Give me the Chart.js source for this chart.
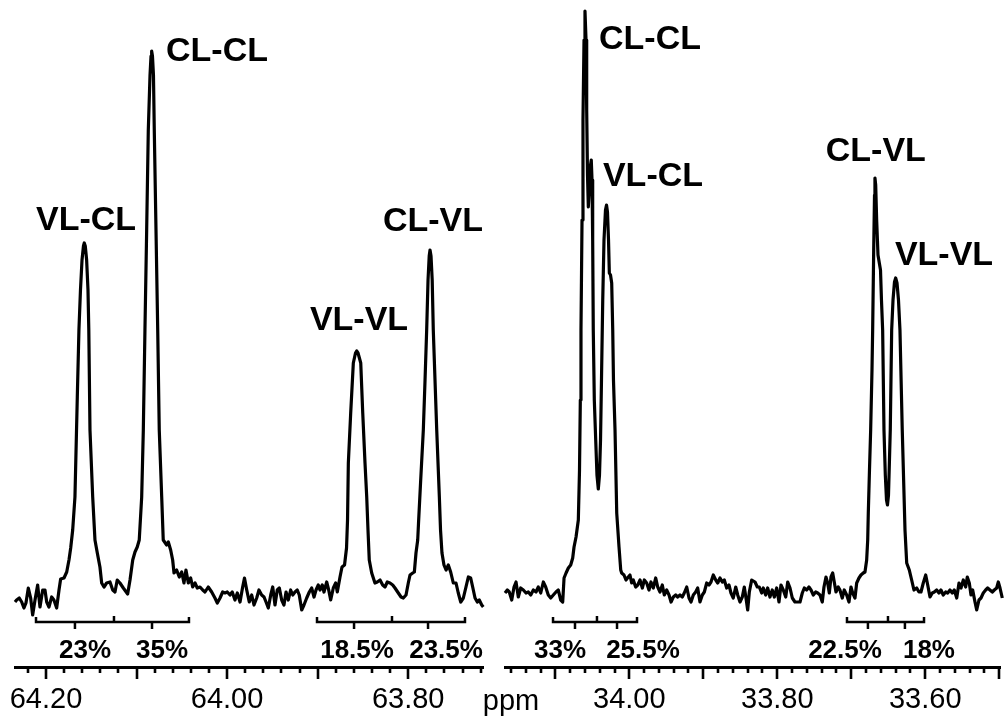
<!DOCTYPE html>
<html>
<head>
<meta charset="utf-8">
<script src="https://cdn.jsdelivr.net/npm/chart.js@4/dist/chart.umd.min.js"></script>
<style>
  html, body { margin: 0; padding: 0; background: #fff; }
  #wrap { position: relative; width: 1005px; height: 719px; overflow: hidden; background: #fff; }
  canvas { position: absolute; top: 0; }
  #leftCanvas { left: 0; }
  #rightCanvas { left: 470px; }
</style>
</head>
<body>
<div id="wrap">
  <canvas id="leftCanvas" width="495" height="719"></canvas>
  <canvas id="rightCanvas" width="535" height="719"></canvas>
</div>
<script>
// ---------- Left panel: 63.72 - 64.23 ppm ----------
const leftPpm = [
  64.2342, 64.2324, 64.2295, 64.2268, 64.2243, 64.2221, 64.2195, 64.2169, 64.2147, 64.2121,
  64.2092, 64.2066, 64.2036, 64.2011, 64.1992, 64.1967, 64.1937, 64.1912, 64.1882, 64.1856,
  64.1838, 64.1801, 64.1771, 64.1746, 64.1727, 64.1705, 64.1680, 64.1654, 64.1636, 64.1619,
  64.1602, 64.1586, 64.1577, 64.1566, 64.1551, 64.1536, 64.1527, 64.1514, 64.1484, 64.1459,
  64.1433, 64.1404, 64.1385, 64.1359, 64.1330, 64.1293, 64.1263, 64.1238, 64.1213, 64.1183,
  64.1146, 64.1098, 64.1072, 64.1042, 64.1017, 64.0992, 64.0970, 64.0943, 64.0925, 64.0907,
  64.0888, 64.0870, 64.0851, 64.0840, 64.0833, 64.0824, 64.0813, 64.0804, 64.0785, 64.0766,
  64.0749, 64.0722, 64.0705, 64.0667, 64.0649, 64.0623, 64.0601, 64.0586, 64.0557, 64.0528,
  64.0501, 64.0476, 64.0454, 64.0428, 64.0402, 64.0380, 64.0354, 64.0329, 64.0299, 64.0269,
  64.0244, 64.0208, 64.0170, 64.0134, 64.0108, 64.0078, 64.0049, 64.0023, 63.9998, 63.9968,
  63.9943, 63.9913, 63.9887, 63.9857, 63.9828, 63.9808, 63.9783, 63.9755, 63.9728, 63.9703,
  63.9673, 63.9648, 63.9618, 63.9592, 63.9570, 63.9545, 63.9518, 63.9496, 63.9471, 63.9446,
  63.9423, 63.9397, 63.9372, 63.9349, 63.9324, 63.9298, 63.9275, 63.9250, 63.9225, 63.9203,
  63.9176, 63.9151, 63.9121, 63.9092, 63.9066, 63.9040, 63.9018, 63.8993, 63.8974, 63.8949,
  63.8930, 63.8900, 63.8878, 63.8856, 63.8827, 63.8801, 63.8783, 63.8753, 63.8731, 63.8703,
  63.8681, 63.8670, 63.8661, 63.8635, 63.8606, 63.8582, 63.8569, 63.8554, 63.8524, 63.8502,
  63.8477, 63.8458, 63.8444, 63.8430, 63.8403, 63.8367, 63.8341, 63.8311, 63.8282, 63.8256,
  63.8231, 63.8201, 63.8171, 63.8146, 63.8109, 63.8079, 63.8054, 63.8024, 63.7999, 63.7980,
  63.7950, 63.7932, 63.7914, 63.7895, 63.7886, 63.7862, 63.7833, 63.7814, 63.7796, 63.7781,
  63.7768, 63.7759, 63.7748, 63.7735, 63.7723, 63.7704, 63.7685, 63.7656, 63.7643, 63.7627,
  63.7605, 63.7582, 63.7557, 63.7531, 63.7502, 63.7472, 63.7447, 63.7420, 63.7391, 63.7362,
  63.7336, 63.7310, 63.7288, 63.7262, 63.7237, 63.7215, 63.7188, 63.7171
];
const leftIntensity = [
  -2, 0, 2, -2, -8, -3, 12, 2, -15, 0,
  15, -7, 10, 10, -2, -7, 3, 0, -8, 10,
  21, 22, 28, 40, 52, 70, 103, 203, 270, 310,
  340, 354, 357, 354, 340, 310, 270, 170, 103, 60,
  47, 33, 17, 13, 17, 18, 10, 8, 20, 17,
  12, 6, 20, 40, 48, 53, 60, 103, 170, 270,
  370, 470, 525, 544, 549, 544, 525, 470, 370, 270,
  170, 103, 60, 55, 58, 50, 40, 27, 30, 23,
  28, 17, 30, 17, 22, 13, 17, 12, 13, 10,
  8, 13, 8, 2, -3, 2, 8, 7, 8, 5,
  8, 0, 7, -2, 13, 22, 10, -2, 5, -5,
  2, 10, 5, 3, -2, -8, 5, 13, -5, 10,
  12, 0, -5, 8, 0, 10, 5, 8, 10, 5,
  -10, -5, 2, 8, 12, 3, 10, 15, 10, 15,
  8, 18, 10, 0, 12, 17, 8, 23, 33, 35,
  52, 80, 137, 187, 237, 247, 249, 247, 237, 187,
  137, 103, 70, 40, 27, 17, 18, 20, 15, 13,
  18, 17, 15, 12, 7, 3, 2, 5, 17, 25,
  27, 28, 47, 60, 77, 120, 170, 220, 270, 320,
  344, 350, 344, 320, 270, 220, 170, 103, 70, 47,
  35, 30, 35, 28, 17, 17, 7, -2, 2, 13,
  23, 22, 13, 2, -2, 0, -5, -7
];

// ---------- Right panel: 33.50 - 34.17 ppm ----------
const rightPpm = [
  34.1680, 34.1649, 34.1622, 34.1589, 34.1558, 34.1531, 34.1500, 34.1468, 34.1432, 34.1396,
  34.1365, 34.1332, 34.1297, 34.1261, 34.1230, 34.1197, 34.1162, 34.1130, 34.1095, 34.1062,
  34.1027, 34.0991, 34.0960, 34.0927, 34.0900, 34.0882, 34.0855, 34.0824, 34.0792, 34.0765,
  34.0747, 34.0720, 34.0689, 34.0673, 34.0662, 34.0653, 34.0639, 34.0626, 34.0612, 34.0599,
  34.0585, 34.0576, 34.0565, 34.0554, 34.0541, 34.0524, 34.0514, 34.0504, 34.0495, 34.0487,
  34.0473, 34.0454, 34.0437, 34.0419, 34.0403, 34.0389, 34.0376, 34.0359, 34.0342, 34.0322,
  34.0308, 34.0295, 34.0281, 34.0270, 34.0254, 34.0238, 34.0224, 34.0214, 34.0193, 34.0170,
  34.0139, 34.0116, 34.0103, 34.0072, 34.0045, 34.0014, 33.9991, 33.9968, 33.9946, 33.9914,
  33.9886, 33.9855, 33.9824, 33.9797, 33.9765, 33.9734, 33.9707, 33.9676, 33.9643, 33.9616,
  33.9585, 33.9554, 33.9527, 33.9495, 33.9463, 33.9436, 33.9405, 33.9373, 33.9346, 33.9315,
  33.9284, 33.9257, 33.9224, 33.9193, 33.9166, 33.9135, 33.9103, 33.9076, 33.9045, 33.9013,
  33.8986, 33.8954, 33.8923, 33.8896, 33.8865, 33.8832, 33.8805, 33.8774, 33.8743, 33.8716,
  33.8684, 33.8653, 33.8626, 33.8595, 33.8562, 33.8535, 33.8504, 33.8473, 33.8446, 33.8423,
  33.8400, 33.8378, 33.8346, 33.8301, 33.8270, 33.8243, 33.8211, 33.8189, 33.8157, 33.8130,
  33.8099, 33.8068, 33.8040, 33.8008, 33.7977, 33.7950, 33.7919, 33.7886, 33.7859, 33.7828,
  33.7797, 33.7761, 33.7730, 33.7693, 33.7662, 33.7635, 33.7603, 33.7572, 33.7544, 33.7513,
  33.7481, 33.7454, 33.7423, 33.7392, 33.7369, 33.7342, 33.7319, 33.7297, 33.7274, 33.7251,
  33.7230, 33.7207, 33.7176, 33.7153, 33.7122, 33.7095, 33.7062, 33.7031, 33.7004, 33.6981,
  33.6950, 33.6927, 33.6896, 33.6869, 33.6838, 33.6815, 33.6792, 33.6778, 33.6770, 33.6754,
  33.6738, 33.6720, 33.6711, 33.6697, 33.6686, 33.6680, 33.6670, 33.6657, 33.6639, 33.6621,
  33.6605, 33.6592, 33.6576, 33.6558, 33.6540, 33.6524, 33.6511, 33.6497, 33.6484, 33.6473,
  33.6454, 33.6436, 33.6416, 33.6400, 33.6382, 33.6362, 33.6342, 33.6311, 33.6274, 33.6251,
  33.6216, 33.6184, 33.6153, 33.6116, 33.6085, 33.6058, 33.6027, 33.5994, 33.5967, 33.5936,
  33.5905, 33.5878, 33.5846, 33.5815, 33.5788, 33.5757, 33.5724, 33.5697, 33.5666, 33.5635,
  33.5608, 33.5575, 33.5544, 33.5517, 33.5486, 33.5454, 33.5432, 33.5405, 33.5382, 33.5359,
  33.5328, 33.5305, 33.5274, 33.5247, 33.5216, 33.5184, 33.5157, 33.5126, 33.5094, 33.5067,
  33.5035, 33.5013, 33.4990, 33.4959
];
const rightIntensity = [
  7, 10, 8, 0, 13, 18, 3, 12, 10, 7,
  8, 5, 10, 8, 13, 7, 18, 13, 5, 2,
  5, 8, 10, 0, -2, 22, 27, 32, 35, 42,
  53, 63, 80, 130, 200, 270, 380, 480, 560, 589,
  560, 490, 425, 393, 410, 435, 440, 420, 360, 270,
  200, 160, 125, 111, 125, 160, 220, 300, 360, 390,
  395, 388, 360, 327, 325, 317, 270, 220, 170, 87,
  53, 30, 27, 25, 20, 23, 25, 17, 20, 13,
  15, 20, 12, 20, 17, 10, 18, 12, 22, 13,
  8, 15, 5, 10, 5, -2, 3, 5, 3, 5,
  3, 7, 13, 2, -2, 5, 8, 12, -2, 5,
  8, 17, 15, 18, 25, 20, 17, 22, 18, 20,
  12, 15, 7, 2, 13, 5, -2, 3, 13, 2,
  -10, 8, 20, 18, 13, 13, 7, 12, 5, 12,
  3, 10, 3, 12, -2, 15, 10, 3, 18, 12,
  2, -2, -2, -2, 7, 12, 10, 13, 10, 5,
  8, 7, 5, -2, 13, 23, 17, 7, 23, 27,
  18, 8, 13, 10, 2, 10, 5, -2, 13, 7,
  2, 17, 22, 25, 27, 28, 40, 60, 87, 130,
  170, 230, 270, 350, 405, 422, 415, 380, 345, 337,
  330, 300, 270, 170, 125, 100, 95, 105, 140, 170,
  270, 300, 318, 322, 317, 300, 270, 170, 70, 37,
  30, 20, 10, 12, 8, 8, 17, 25, 15, 3,
  7, 8, 10, 7, 10, 5, 8, 7, 10, 7,
  10, 2, 17, 12, 20, 13, 23, 17, 5, 10,
  -2, -10, 0, 2, 7, 10, 12, 10, 8, 10,
  12, 18, 12, 2
];

// axis ranges and labelled ticks
const leftRange = [63.7174, 64.2342];
const rightRange = [33.4990, 34.1680];
const leftTicks = [64.20, 64.00, 63.80];
const rightTicks = [34.00, 33.80, 33.60];

// peak assignments: name, position (ppm) and label height (intensity)
const leftPeakNames = ['VL-CL', 'CL-CL', 'VL-VL', 'CL-VL'];
const leftPeakPpm = [64.1558, 64.0111, 63.8543, 63.7726];
const leftPeakLevel = [382, 551, 282, 381];
const rightPeakNames = ['CL-CL', 'VL-CL', 'CL-VL', 'VL-VL'];
const rightPeakPpm = [33.9720, 33.9680, 33.6668, 33.5747];
const rightPeakLevel = [563, 426, 451, 347];

// integral brackets: [start, split, end] in ppm, with the marker positions
const leftIntegralBounds = [[64.2110, 64.1249, 64.0421], [63.9007, 63.8179, 63.7373]];
const leftIntegralMarks = [[64.1680, 64.0829], [63.8598, 63.7781]];
const leftIntegralText = ['23%', '35%', '18.5%', '23.5%'];
const leftIntegralTextPpm = [64.1569, 64.0719, 63.8565, 63.7582];
const rightIntegralBounds = [[34.1031, 34.0437, 33.9896], [33.7058, 33.6504, 33.6017]];
const rightIntegralMarks = [[34.0734, 34.0166], [33.6775, 33.6275]];
const rightIntegralText = ['33%', '25.5%', '22.5%', '18%'];
const rightIntegralTextPpm = [34.0937, 33.9815, 33.7085, 33.5950];

const FONT = "'Liberation Sans', Arial, Helvetica, sans-serif";

// Draws minor/major tick marks, integral brackets, percentages and peak names
const spectrumDecor = {
  id: 'spectrumDecor',
  afterDraw(chart, args, opts) {
    const ctx = chart.ctx;
    const xs = chart.scales.x;
    const ys = chart.scales.y;
    const base = chart.chartArea.bottom;
    ctx.save();
    ctx.strokeStyle = '#000';
    ctx.fillStyle = '#000';
    ctx.lineCap = 'butt';

    // tick marks every 0.02 ppm, longer every 0.1 ppm
    ctx.lineWidth = 2.6;
    const k0 = Math.ceil(xs.min / 0.02 - 1e-6);
    const k1 = Math.floor(xs.max / 0.02 + 1e-6);
    for (let k = k0; k <= k1; k++) {
      const px = Math.round(xs.getPixelForValue(k * 0.02));
      const len = (k % 5 === 0) ? 12 : 6;
      ctx.beginPath();
      ctx.moveTo(px, base);
      ctx.lineTo(px, base + len);
      ctx.stroke();
    }

    // integral brackets
    const yb = base - 45;
    ctx.lineWidth = 2.5;
    ctx.lineJoin = 'miter';
    opts.bounds.forEach((b, i) => {
      const a = xs.getPixelForValue(b[0]);
      const m = xs.getPixelForValue(b[1]);
      const e = xs.getPixelForValue(b[2]);
      ctx.beginPath();
      ctx.moveTo(a, yb - 5);
      ctx.lineTo(a, yb);
      ctx.lineTo(e, yb);
      ctx.lineTo(e, yb - 5);
      ctx.moveTo(m, yb);
      ctx.lineTo(m, yb - 6);
      opts.marks[i].forEach(v => {
        const p = xs.getPixelForValue(v);
        ctx.moveTo(p, yb);
        ctx.lineTo(p, yb + 7);
      });
      ctx.stroke();
    });

    // integral percentages
    ctx.font = 'bold 26px ' + FONT;
    ctx.textAlign = 'center';
    ctx.textBaseline = 'alphabetic';
    opts.text.forEach((t, i) => {
      ctx.fillText(t, xs.getPixelForValue(opts.textPpm[i]), base - 18 + 0.358 * 26);
    });

    // peak names
    ctx.font = 'bold 34px ' + FONT;
    opts.names.forEach((t, i) => {
      ctx.fillText(t, xs.getPixelForValue(opts.namePpm[i]),
        ys.getPixelForValue(opts.nameLevel[i]) + 0.358 * 34);
    });

    // axis unit
    if (opts.unit) {
      ctx.font = '29px ' + FONT;
      ctx.fillText(opts.unit, xs.left + 6, base + 33 + 0.358 * 29);
    }
    ctx.restore();
  }
};

function makePanel(canvasId, ppm, intensity, range, ticks, pad, decor) {
  const pts = ppm.map((x, i) => ({ x: x, y: intensity[i] }));
  return new Chart(document.getElementById(canvasId), {
    type: 'line',
    data: {
      datasets: [{
        data: pts,
        borderColor: '#000',
        borderWidth: 3.2,
        pointRadius: 0,
        tension: 0,
        fill: false,
        clip: false,
        borderJoinStyle: 'round'
      }]
    },
    options: {
      responsive: false,
      animation: false,
      events: [],
      layout: { padding: { left: pad[0], right: pad[1], top: 0, bottom: 0 } },
      plugins: {
        legend: { display: false },
        tooltip: { enabled: false },
        spectrumDecor: decor
      },
      scales: {
        x: {
          type: 'linear',
          reverse: true,
          min: range[0],
          max: range[1],
          afterBuildTicks: s => { s.ticks = ticks.map(v => ({ value: v })); },
          afterFit: s => { s.height = 52; s.paddingLeft = 0; s.paddingRight = 0; },
          grid: { display: true, drawOnChartArea: false, drawTicks: false },
          border: { display: true, color: '#000', width: 3 },
          ticks: {
            autoSkip: false,
            maxRotation: 0,
            padding: 16,
            color: '#000',
            font: { family: FONT, size: 29 },
            callback: v => Number(v).toFixed(2)
          }
        },
        y: { display: false, min: -67, max: 600 }
      }
    },
    plugins: [spectrumDecor]
  });
}

makePanel('leftCanvas', leftPpm, leftIntensity, leftRange, leftTicks, [15, 12], {
  bounds: leftIntegralBounds, marks: leftIntegralMarks,
  text: leftIntegralText, textPpm: leftIntegralTextPpm,
  names: leftPeakNames, namePpm: leftPeakPpm, nameLevel: leftPeakLevel
});
makePanel('rightCanvas', rightPpm, rightIntensity, rightRange, rightTicks, [35, 5], {
  bounds: rightIntegralBounds, marks: rightIntegralMarks,
  text: rightIntegralText, textPpm: rightIntegralTextPpm,
  names: rightPeakNames, namePpm: rightPeakPpm, nameLevel: rightPeakLevel,
  unit: 'ppm'
});
</script>
</body>
</html>
